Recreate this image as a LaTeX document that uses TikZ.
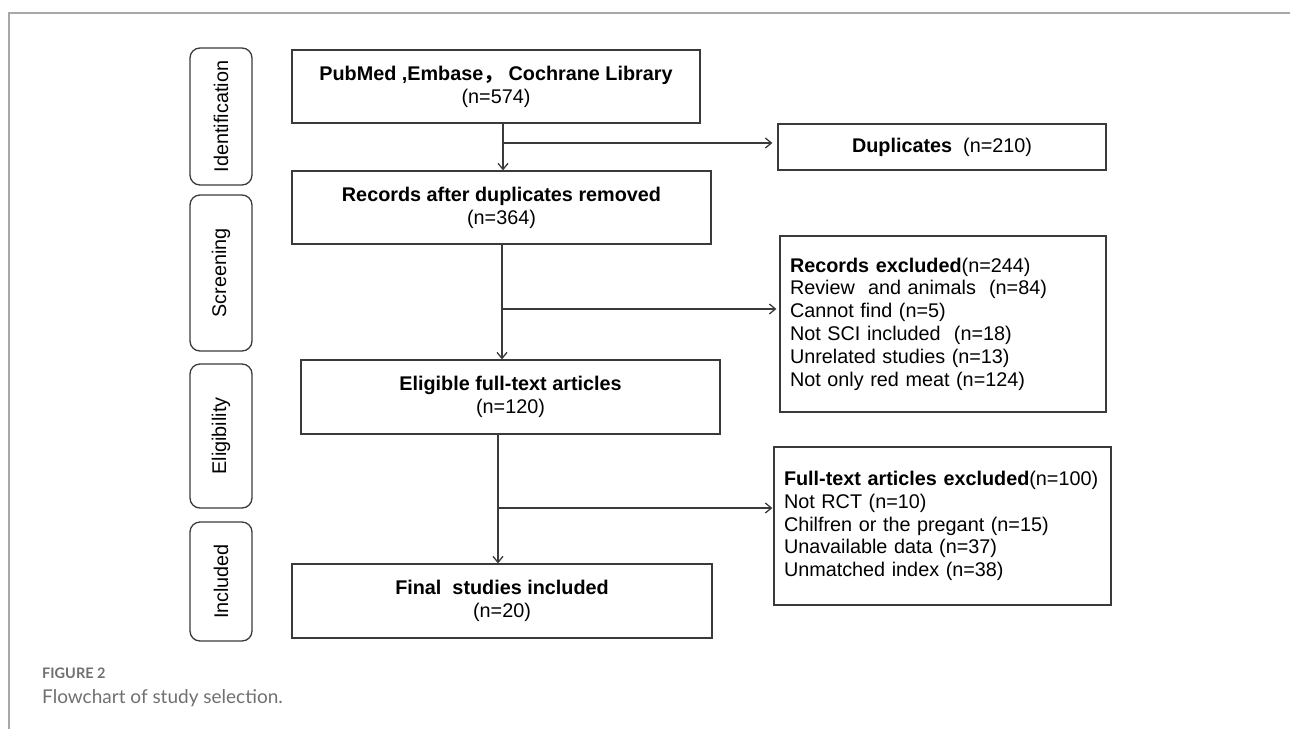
\documentclass[tikz,border=0pt]{standalone}
\usepackage{fontspec}
\setmainfont{Liberation Sans}
\newfontfamily\cjk{Noto Sans CJK SC}
\newfontfamily\capfont{Lato}
\usetikzlibrary{arrows.meta}
\definecolor{boxline}{HTML}{3A3A3A}
\definecolor{framegray}{HTML}{A8A8A8}
\definecolor{capgray}{HTML}{707070}
\begin{document}
\begin{tikzpicture}[x=1pt,y=-1pt,
flowbox/.style={draw=boxline,line width=1.3pt,align=center,inner sep=0pt,font=\fontsize{19.8}{23}\selectfont},
listbox/.style={draw=boxline,line width=1.3pt,align=left,inner xsep=10pt,inner ysep=0pt,font=\fontsize{19.8}{22.8}\selectfont},
phase/.style={draw=boxline,line width=1.3pt,rounded corners=10pt,rotate=90,minimum height=62pt,inner sep=0pt,font=\fontsize{19.8}{23}\selectfont},
arr/.style={-{Straight Barb[length=6pt,width=10pt]},draw=boxline,line width=1.3pt}]
\useasboundingbox(0,0)rectangle(1290,729);
\draw[framegray,line width=1.5pt](1290,13)--(9,13)--(9,729);
% phases
\node[phase,minimum width=137pt](ident)at(221,116.5){Identification};
\node[phase,minimum width=156pt](screen)at(221,273){Screening};
\node[phase,minimum width=144pt](elig)at(221,436){Eligibility};
\node[phase,minimum width=119pt](incl)at(221,581.5){Included};
% main column
\node[flowbox,minimum width=408pt,minimum height=73pt](src)at(496,86.5){\textbf{PubMed ,Embase{\cjk ，}\ Cochrane Library}\\(n=574)};
\node[flowbox,minimum width=419pt,minimum height=73pt](dedup)at(501.5,207.5){\textbf{Records after duplicates removed}\\(n=364)};
\node[flowbox,minimum width=419pt,minimum height=74pt](full)at(510.5,397){\textbf{Eligible full-text articles}\\(n=120)};
\node[flowbox,minimum width=420pt,minimum height=74pt](final)at(502,601){\textbf{Final\ \ studies included}\\(n=20)};
% side column
\node[flowbox,minimum width=328pt,minimum height=46pt](dup)at(942,147){\textbf{Duplicates}\ \ (n=210)};
\node[listbox,text width=306pt,minimum height=176pt](exclA)at(943,324){\textbf{Records excluded}(n=244)\\Review\ \ and animals\ \ (n=84)\\Cannot find (n=5)\\Not SCI included\ \ (n=18)\\Unrelated studies (n=13)\\Not only red meat (n=124)};
\node[listbox,text width=317pt,minimum height=158pt](exclB)at(942.5,526){\textbf{Full-text articles excluded}(n=100)\\Not RCT (n=10)\\Chilfren or the pregant (n=15)\\Unavailable data (n=37)\\Unmatched index (n=38)};
% connectors
\coordinate(j1)at(503,143);
\coordinate(j2)at(502,309);
\coordinate(j3)at(498,508);
\draw[arr](src.south-|j1)--(dedup.north-|j1);
\draw[arr,shorten >=5pt](j1)--(dup.west|-j1);
\draw[arr](dedup.south-|j2)--(full.north-|j2);
\draw[arr,shorten >=3pt](j2)--(exclA.west|-j2);
\draw[arr](full.south-|j3)--(final.north-|j3);
\draw[arr,shorten >=1pt](j3)--(exclB.west|-j3);
% caption
\node[anchor=west,inner sep=0pt,text=capgray,font=\capfont\bfseries\fontsize{14.5}{17}\selectfont](fig)at(42,673){FIGURE 2};
\node[anchor=west,inner sep=0pt,text=capgray,font=\capfont\fontsize{19}{22}\selectfont](cap)at(42,698){Flowchart of study selection.};
\end{tikzpicture}
\end{document}
